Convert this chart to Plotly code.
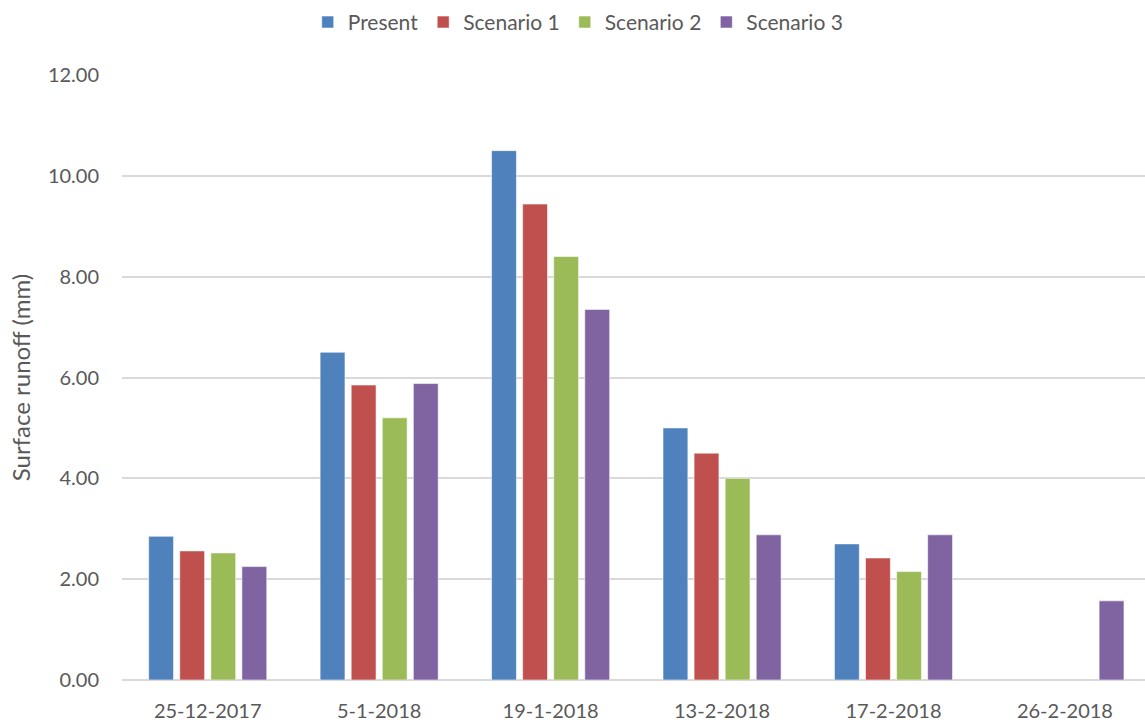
import plotly.graph_objects as go

dates = ["25-12-2017", "5-1-2018", "19-1-2018", "13-2-2018", "17-2-2018", "26-2-2018"]
present = [2.85, 6.50, 10.50, 5.00, 2.70, None]
scenario_1 = [2.56, 5.85, 9.44, 4.50, 2.42, None]
scenario_2 = [2.52, 5.20, 8.40, 4.00, 2.15, None]
scenario_3 = [2.25, 5.88, 7.35, 2.88, 2.88, 1.57]

series = [
    ("Present", present, "#4F81BD"),
    ("Scenario 1", scenario_1, "#C0504D"),
    ("Scenario 2", scenario_2, "#9BBB59"),
    ("Scenario 3", scenario_3, "#8064A2"),
]

FONT = "Lato, 'Open Sans', sans-serif"
TEXT = "#595959"

fig = go.Figure()
for name, vals, color in series:
    fig.add_trace(go.Bar(
        x=dates, y=vals, name=name,
        marker=dict(color=color, line=dict(color="rgba(255,255,255,0.55)", width=1)),
    ))

fig.update_layout(
    width=1145, height=722,
    margin=dict(l=122, r=0, t=75, b=42, autoexpand=False),
    paper_bgcolor="white", plot_bgcolor="white",
    barmode="group", bargap=0.275, bargroupgap=0.2,
    font=dict(family=FONT, size=20, color=TEXT),
    legend=dict(
        orientation="h", xref="container", x=0.505, xanchor="center",
        yref="container", y=0.969, yanchor="middle",
        font=dict(family=FONT, size=21, color=TEXT),
        itemwidth=30, traceorder="normal",
    ),
    xaxis=dict(
        range=[-0.5, 5.467],
        showgrid=False, showline=False, ticks="", ticklabelstandoff=17,
        tickfont=dict(family=FONT, size=20, color=TEXT),
    ),
    yaxis=dict(
        range=[0, 12], dtick=2, tickformat=".2f",
        showgrid=True, gridcolor="#D9D9D9", gridwidth=1.5,
        zeroline=True, zerolinecolor="#D9D9D9", zerolinewidth=1.5,
        showline=False, ticks="", ticklabelstandoff=22,
        tickfont=dict(family=FONT, size=20, color=TEXT),
        title=dict(text="Surface runoff (mm)", standoff=10,
                   font=dict(family=FONT, size=24, color=TEXT)),
    ),
)

fig.write_html("out.html")
